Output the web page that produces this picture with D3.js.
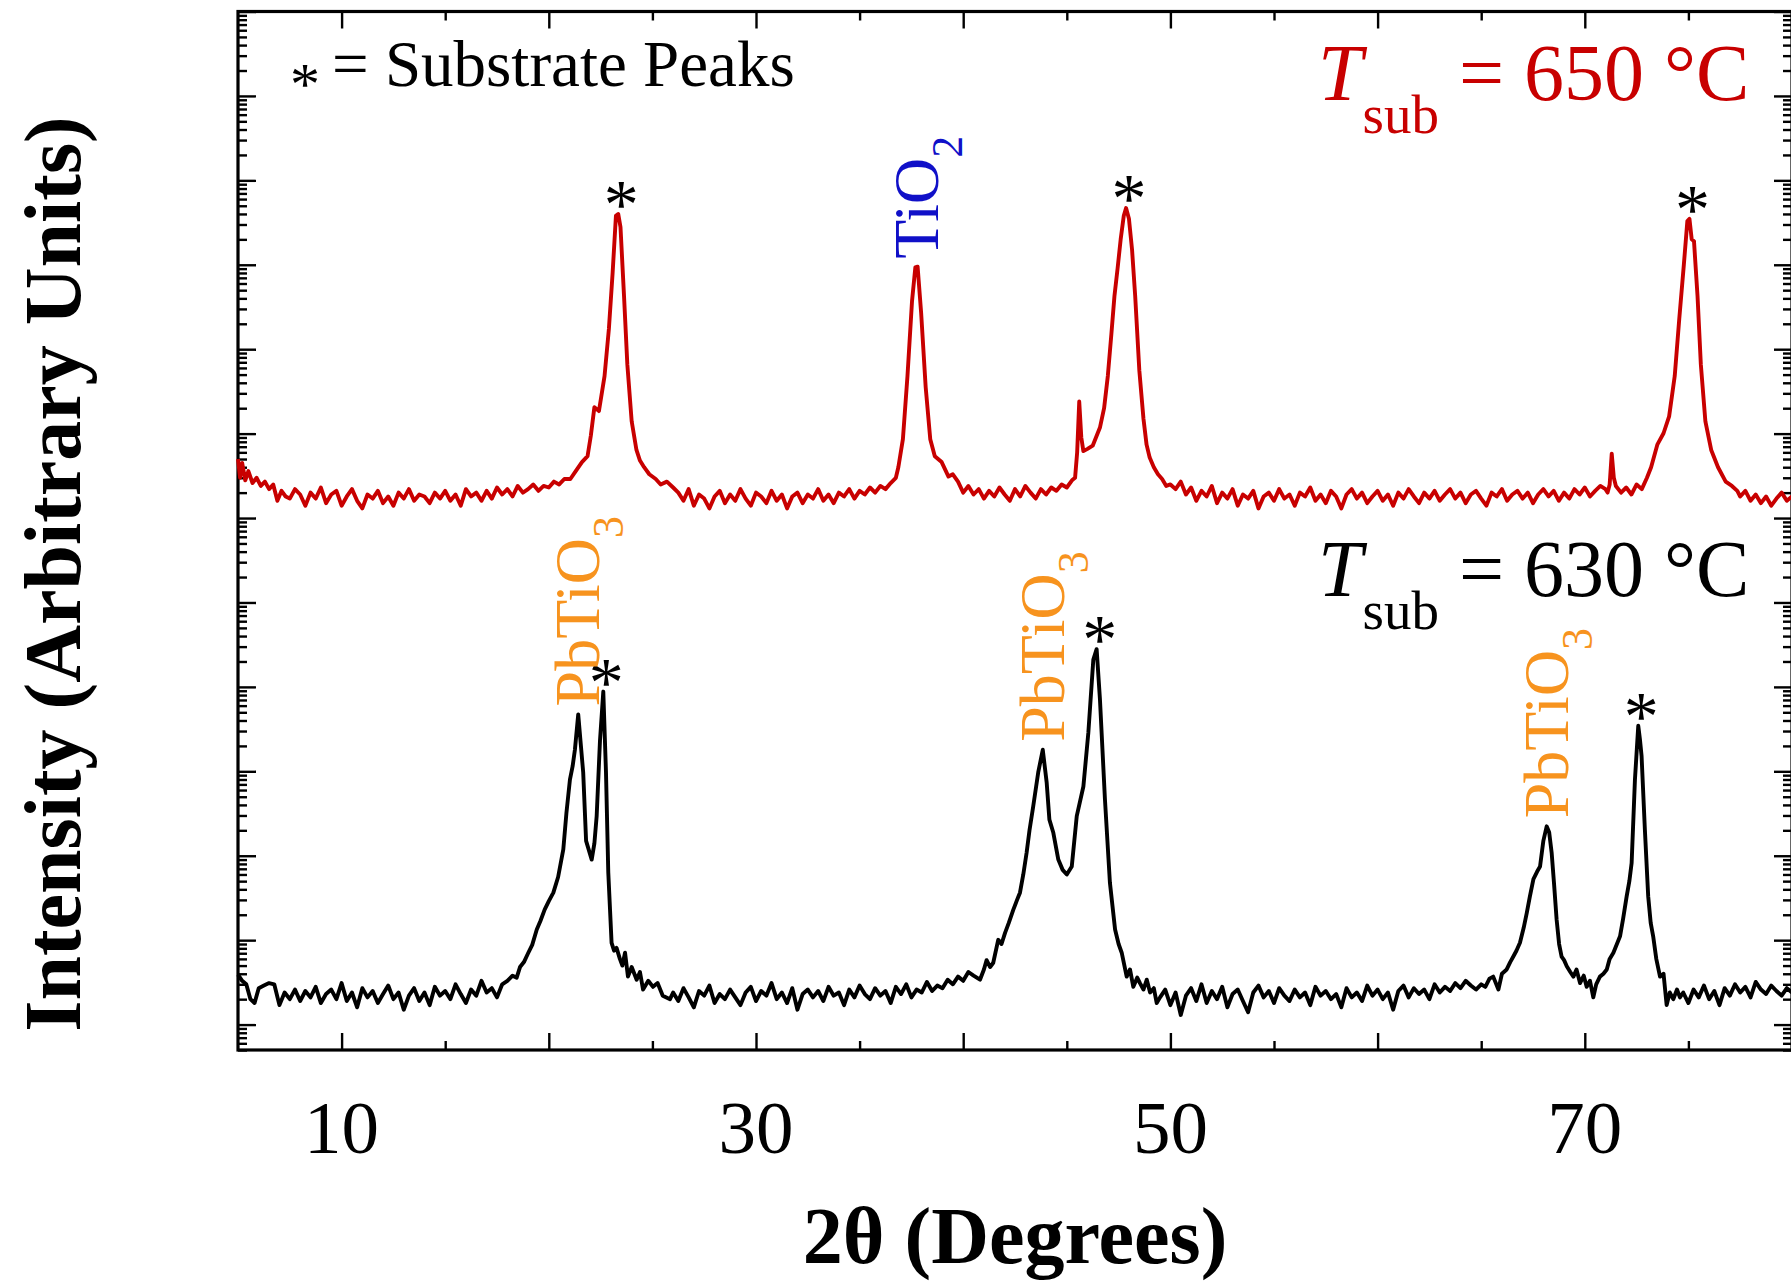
<!DOCTYPE html>
<html>
<head>
<meta charset="utf-8">
<script src="https://cdn.jsdelivr.net/npm/d3@7"></script>
<style>
  body { margin: 0; background: #fff; }
  svg text { font-family: "Liberation Serif", "Times New Roman", serif; }
</style>
</head>
<body>
<svg id="chart" width="1791" height="1281"></svg>
<script>
// XRD scans, [2theta (deg), counts]; the 650 C scan is shifted up on the log axis
const scan630 = [
  [5.0,39],[5.2,33],[5.4,30],[5.6,20],[5.8,18],[6.0,27],[6.25,29],[6.5,31],[6.75,30],[7.0,17],
  [7.25,24],[7.5,20],[7.75,26],[8.0,19],[8.25,25],[8.5,21],[8.75,28],[9.0,18],[9.25,23],[9.5,26],
  [9.75,20],[10.0,31],[10.25,19],[10.5,24],[10.75,16],[11.0,27],[11.25,21],[11.5,25],[11.75,18],[12.0,23],
  [12.25,29],[12.5,20],[12.75,24],[13.0,15],[13.25,22],[13.5,27],[13.75,19],[14.0,24],[14.25,17],[14.5,28],
  [14.75,22],[15.0,25],[15.25,20],[15.5,30],[15.75,23],[16.0,18],[16.25,26],[16.5,22],[16.75,33],[17.0,24],
  [17.25,27],[17.5,21],[17.75,30],[18.0,33],[18.25,38],[18.45,36],[18.61,48],[18.8,55],[19.0,70],[19.2,88],
  [19.42,134],[19.6,170],[19.8,230],[20.0,290],[20.22,365],[20.45,560],[20.7,1190],[20.85,3200],[21.02,7980],[21.15,11500],
  [21.26,18000],[21.42,47200],[21.55,20000],[21.66,9700],[21.8,1500],[22.07,900],[22.2,1400],[22.31,2950],[22.47,23000],[22.63,88000],
  [22.76,9700],[22.87,640],[23.03,93],[23.15,75],[23.27,81],[23.43,60],[23.55,50],[23.68,71],[23.82,37],[24.0,48],
  [24.24,34],[24.4,42],[24.55,26],[24.8,33],[25.03,28],[25.25,31],[25.5,22],[25.85,20],[26.0,24],[26.25,19],
  [26.5,27],[26.75,21],[27.0,16],[27.25,25],[27.5,22],[27.75,29],[28.0,18],[28.25,23],[28.5,20],[28.75,26],
  [29.0,21],[29.25,17],[29.5,24],[29.75,28],[30.0,19],[30.25,25],[30.5,22],[30.75,31],[31.0,20],[31.25,24],
  [31.5,18],[31.75,27],[32.0,15],[32.25,23],[32.5,26],[32.75,21],[33.0,25],[33.25,19],[33.5,28],[33.75,22],
  [34.0,24],[34.25,17],[34.5,26],[34.75,21],[35.0,29],[35.25,23],[35.5,20],[35.75,27],[36.0,22],[36.25,25],
  [36.5,18],[36.75,28],[37.0,23],[37.25,30],[37.5,21],[37.75,26],[38.0,24],[38.25,32],[38.5,25],[38.75,29],
  [39.0,27],[39.25,34],[39.5,30],[39.75,37],[40.0,33],[40.25,42],[40.5,38],[40.81,34],[41.0,45],[41.13,58],
  [41.3,48],[41.45,54],[41.69,101],[41.85,90],[42.02,122],[42.2,160],[42.42,230],[42.6,300],[42.74,365],[42.9,600],
  [43.06,1086],[43.2,2000],[43.38,3850],[43.62,9700],[43.84,18000],[44.03,7300],[44.16,2680],[44.35,1870],[44.59,900],[44.8,680],
  [45.0,600],[45.24,746],[45.48,2944],[45.8,6600],[46.04,28700],[46.28,210000],[46.44,280000],[46.6,71000],[46.84,4700],[47.08,482],
  [47.33,134],[47.5,90],[47.65,71],[47.89,37],[48.05,45],[48.21,28],[48.4,36],[48.53,31],[48.7,26],[48.86,34],
  [49.02,24],[49.2,27],[49.34,18],[49.5,21],[49.75,26],[50.0,17],[50.25,24],[50.5,13],[50.75,22],[51.0,27],
  [51.25,19],[51.5,30],[51.75,18],[52.0,25],[52.25,20],[52.5,28],[52.75,16],[53.0,23],[53.25,26],[53.5,19],
  [53.75,14],[54.0,24],[54.25,29],[54.5,21],[54.75,25],[55.0,18],[55.25,27],[55.5,22],[55.75,19],[56.0,26],
  [56.25,21],[56.5,24],[56.75,17],[57.0,28],[57.25,22],[57.5,25],[57.75,20],[58.0,23],[58.25,16],[58.5,27],
  [58.75,21],[59.0,24],[59.25,19],[59.5,29],[59.75,22],[60.0,26],[60.25,20],[60.5,24],[60.75,15],[61.0,25],
  [61.25,29],[61.5,21],[61.75,27],[62.0,23],[62.25,26],[62.5,20],[62.75,30],[63.0,24],[63.25,28],[63.5,25],
  [63.75,31],[64.0,27],[64.25,33],[64.5,29],[64.75,26],[65.0,30],[65.2,28],[65.4,35],[65.58,37],[65.83,26],
  [66.0,40],[66.23,45],[66.4,55],[66.55,64],[66.7,75],[66.87,93],[67.05,140],[67.2,210],[67.35,330],[67.52,530],
  [67.7,650],[67.84,746],[68.0,1500],[68.16,2230],[68.28,1900],[68.4,1086],[68.52,450],[68.64,175],[68.76,90],[68.88,64],
  [69.0,58],[69.13,49],[69.3,42],[69.45,37],[69.6,45],[69.77,31],[69.95,38],[70.09,28],[70.25,33],[70.41,21],
  [70.55,30],[70.73,37],[70.9,40],[71.06,45],[71.2,60],[71.38,71],[71.55,90],[71.7,111],[71.85,180],[72.02,330],
  [72.15,500],[72.26,820],[72.42,7980],[72.58,34600],[72.66,24000],[72.74,15200],[72.9,2023],[73.06,330],[73.18,160],[73.3,111],
  [73.45,60],[73.63,37],[73.8,40],[73.95,17],[74.1,24],[74.27,20],[74.45,26],[74.59,21],[74.75,24],[75.0,18],
  [75.25,26],[75.5,21],[75.75,29],[76.0,20],[76.25,25],[76.5,17],[76.75,27],[77.0,22],[77.25,30],[77.5,24],
  [77.75,28],[78.0,21],[78.25,32],[78.5,26],[78.75,23],[79.0,29],[79.25,25],[79.5,22],[79.75,27],[80.0,24]
];

const scan650 = [
  [5.0,50],[5.1,30],[5.2,45],[5.35,28],[5.5,36],[5.7,26],[5.9,30],[6.1,24],[6.3,27],[6.5,22],
  [6.7,25],[6.9,16],[7.1,21],[7.3,18],[7.5,17],[7.75,22],[8.0,19],[8.25,14],[8.5,20],[8.75,17],
  [9.0,23],[9.25,15],[9.5,19],[9.75,21],[10.0,14],[10.25,18],[10.5,22],[10.75,16],[11.0,13],[11.25,19],
  [11.5,17],[11.75,21],[12.0,15],[12.25,18],[12.5,14],[12.75,20],[13.0,17],[13.25,22],[13.5,16],[13.75,19],
  [14.0,18],[14.25,15],[14.5,20],[14.75,17],[15.0,21],[15.25,16],[15.5,19],[15.75,14],[16.0,22],[16.25,18],
  [16.5,20],[16.75,16],[17.0,21],[17.25,17],[17.5,23],[17.75,19],[18.0,22],[18.25,18],[18.5,24],[18.75,20],
  [19.0,22],[19.25,25],[19.5,21],[19.75,24],[20.0,23],[20.25,27],[20.5,25],[20.75,29],[21.04,29],[21.3,36],
  [21.6,46],[21.87,54],[22.03,95],[22.2,205],[22.42,185],[22.69,480],[22.9,1740],[23.08,8000],[23.24,38000],[23.35,40000],
  [23.46,28000],[23.63,4270],[23.79,660],[24.0,140],[24.23,64],[24.4,48],[24.6,40],[24.85,33],[25.16,29],[25.4,25],
  [25.7,27],[26.0,23],[26.25,20],[26.5,16],[26.75,22],[27.0,14],[27.25,19],[27.5,17],[27.75,13],[28.0,18],
  [28.25,21],[28.5,15],[28.75,19],[29.0,16],[29.25,22],[29.5,17],[29.75,14],[30.0,20],[30.25,18],[30.5,15],
  [30.75,21],[31.0,16],[31.25,19],[31.5,13],[31.75,18],[32.0,20],[32.25,15],[32.5,19],[32.75,17],[33.0,22],
  [33.25,16],[33.5,19],[33.75,15],[34.0,20],[34.25,18],[34.5,22],[34.75,17],[35.0,21],[35.25,19],[35.5,23],
  [35.75,20],[36.0,24],[36.25,22],[36.5,26],[36.75,30],[36.87,40],[37.09,86],[37.31,480],[37.53,3700],[37.69,9300],
  [37.8,9500],[37.97,2700],[38.19,353],[38.41,86],[38.63,54],[38.96,46],[39.29,31],[39.5,33],[39.75,27],[40.0,20],
  [40.25,24],[40.5,19],[40.75,22],[41.0,17],[41.25,21],[41.5,18],[41.75,23],[42.0,19],[42.25,16],[42.5,22],
  [42.75,18],[43.0,24],[43.25,20],[43.5,17],[43.75,22],[44.0,19],[44.25,23],[44.5,21],[44.75,25],[45.0,23],
  [45.25,28],[45.4,30],[45.5,60],[45.6,240],[45.7,90],[45.8,62],[46.0,66],[46.25,72],[46.6,118],[46.8,200],
  [46.98,482],[47.15,1500],[47.3,4270],[47.45,9000],[47.6,20000],[47.75,38000],[47.86,47000],[48.0,35000],[48.15,15000],[48.3,4270],
  [48.5,560],[48.7,150],[48.85,74],[49.0,52],[49.2,40],[49.4,33],[49.6,29],[49.8,24],[50.0,25],[50.25,22],
  [50.5,27],[50.75,19],[51.0,23],[51.25,16],[51.5,21],[51.75,18],[52.0,24],[52.25,15],[52.5,20],[52.75,17],
  [53.0,22],[53.25,14],[53.5,19],[53.75,17],[54.0,21],[54.25,13],[54.5,18],[54.75,20],[55.0,16],[55.25,22],
  [55.5,17],[55.75,19],[56.0,14],[56.25,20],[56.5,18],[56.75,23],[57.0,16],[57.25,19],[57.5,15],[57.75,21],
  [58.0,18],[58.25,13],[58.5,19],[58.75,22],[59.0,17],[59.25,20],[59.5,15],[59.75,18],[60.0,21],[60.25,16],
  [60.5,19],[60.75,14],[61.0,20],[61.25,17],[61.5,22],[61.75,18],[62.0,15],[62.25,20],[62.5,17],[62.75,21],
  [63.0,16],[63.25,19],[63.5,22],[63.75,17],[64.0,20],[64.25,15],[64.5,19],[64.75,21],[65.0,17],[65.25,14],
  [65.5,20],[65.75,18],[66.0,22],[66.25,16],[66.5,19],[66.75,21],[67.0,17],[67.25,20],[67.5,15],[67.75,19],
  [68.0,22],[68.25,18],[68.5,21],[68.75,16],[69.0,20],[69.25,17],[69.5,22],[69.75,19],[70.0,23],[70.25,18],
  [70.5,21],[70.75,24],[71.0,22],[71.1,20],[71.2,25],[71.3,58],[71.4,30],[71.5,24],[71.75,20],[72.0,23],
  [72.25,19],[72.5,25],[72.75,22],[73.0,30],[73.2,40],[73.5,74],[73.8,101],[74.07,160],[74.34,480],[74.56,2300],
  [74.78,10000],[74.95,33000],[75.05,35000],[75.16,20000],[75.27,19000],[75.44,4270],[75.6,660],[75.82,140],[76.1,64],[76.43,40],
  [76.8,27],[77.1,24],[77.36,21],[77.5,18],[77.75,21],[78.0,16],[78.25,19],[78.5,15],[78.75,18],[79.0,14],
  [79.25,17],[79.5,20],[79.75,16],[80.0,18]
];

const offset650 = 1e6; // vertical stacking factor for the upper scan

const xMajorTicks = [10, 20, 30, 40, 50, 60, 70];
const xMinorTicks = [15, 25, 35, 45, 55, 65, 75];
const xTickLabels = [10, 30, 50, 70];

// substrate (*) peaks and phase labels, by angle
const starAngles630 = [22.63, 46.44, 72.58];
const starAngles650 = [23.35, 47.86, 75.05];
const phases630 = [["PbTiO", "3", 21.42], ["PbTiO", "3", 43.84], ["PbTiO", "3", 68.16]];
const phases650 = [["TiO", "2", 37.75]];

const plotL = 238, plotR = 1792, plotT = 11.5, plotB = 1050;
const svg = d3.select("#chart");

let x = d3.scaleLinear().domain([5, 80]).range([plotL, plotR]);
let y = d3.scaleLog().domain([5, 1e13]).range([plotB, plotT]);

// log ticks: decades and 2..9 minors
let yMajor = [], yMinor = [];
for (let k = 0; k <= 13; k++) {
  for (let m = 1; m <= 9; m++) {
    let v = m * Math.pow(10, k);
    if (v < 5 || v > 1e13) continue;
    if (m === 1) yMajor.push(v); else yMinor.push(v);
  }
}

function tidy(g) {
  g.select(".domain").remove();
  g.selectAll(".tick line").attr("stroke", "#000").attr("stroke-width", 2.4);
}

svg.append("g").attr("transform", `translate(0,${plotB})`)
  .call(d3.axisBottom(x).tickValues(xMajorTicks).tickSize(-17).tickFormat("")).call(tidy);
svg.append("g").attr("transform", `translate(0,${plotB})`)
  .call(d3.axisBottom(x).tickValues(xMinorTicks).tickSize(-9).tickFormat("")).call(tidy);
svg.append("g").attr("transform", `translate(0,${plotT})`)
  .call(d3.axisTop(x).tickValues(xMajorTicks).tickSize(-17).tickFormat("")).call(tidy);
svg.append("g").attr("transform", `translate(0,${plotT})`)
  .call(d3.axisTop(x).tickValues(xMinorTicks).tickSize(-9).tickFormat("")).call(tidy);

svg.append("g").attr("transform", `translate(${plotL},0)`)
  .call(d3.axisLeft(y).tickValues(yMajor).tickSize(-18).tickFormat("")).call(tidy);
svg.append("g").attr("transform", `translate(${plotL},0)`)
  .call(d3.axisLeft(y).tickValues(yMinor).tickSize(-9).tickFormat("")).call(tidy);
svg.append("g").attr("transform", `translate(${plotR},0)`)
  .call(d3.axisRight(y).tickValues(yMajor).tickSize(-18).tickFormat("")).call(tidy);
svg.append("g").attr("transform", `translate(${plotR},0)`)
  .call(d3.axisRight(y).tickValues(yMinor).tickSize(-9).tickFormat("")).call(tidy);

svg.append("rect")
  .attr("x", plotL).attr("y", plotT)
  .attr("width", plotR - plotL).attr("height", plotB - plotT)
  .attr("fill", "none").attr("stroke", "#000").attr("stroke-width", 3.2);

svg.selectAll(".xlab").data(xTickLabels).enter()
  .append("text")
  .attr("x", d => x(d)).attr("y", 1153)
  .attr("text-anchor", "middle").attr("font-size", 75)
  .text(d => d);

// curves
function lineFor(scale) {
  return d3.line().x(d => x(d[0])).y(d => y(d[1] * scale));
}
svg.append("path").datum(scan650)
  .attr("d", lineFor(offset650))
  .attr("fill", "none").attr("stroke", "#c80000").attr("stroke-width", 3.9)
  .attr("stroke-linejoin", "round");
svg.append("path").datum(scan630)
  .attr("d", lineFor(1))
  .attr("fill", "none").attr("stroke", "#000").attr("stroke-width", 3.9)
  .attr("stroke-linejoin", "round");

function peakTop(data, angle) {
  let near = data.filter(d => Math.abs(d[0] - angle) < 0.3);
  return d3.max(near, d => d[1]);
}

// * markers above substrate peaks
function stars(data, angles, scale) {
  svg.selectAll(null).data(angles).enter()
    .append("text")
    .attr("x", d => x(d) + 3)
    .attr("y", d => y(peakTop(data, d) * scale) + 14)
    .attr("text-anchor", "middle").attr("font-size", 70)
    .text("*");
}
stars(scan630, starAngles630, 1);
stars(scan650, starAngles650, offset650);

// rotated phase labels
function phaseLabels(data, list, scale, color) {
  list.forEach(p => {
    let px = x(p[2]) + 21;
    let py = y(peakTop(data, p[2]) * scale) - 8;
    let t = svg.append("text")
      .attr("transform", `translate(${px},${py}) rotate(-90)`)
      .attr("fill", color).attr("font-size", 64);
    t.append("tspan").text(p[0]);
    t.append("tspan").attr("font-size", 44).attr("dy", 24).text(p[1]);
  });
}
phaseLabels(scan630, phases630, 1, "#f7931e");
phaseLabels(scan650, phases650, offset650, "#1010c8");

// legend text
svg.append("text").attr("x", 290).attr("y", 104).attr("font-size", 60).text("*");
svg.append("text").attr("x", 332).attr("y", 86).attr("font-size", 65).text("= Substrate Peaks");

function tempLabel(value, baseY, color) {
  let t = svg.append("text").attr("x", 1318).attr("y", baseY)
    .attr("fill", color).attr("font-size", 80);
  t.append("tspan").attr("font-style", "italic").text("T");
  t.append("tspan").attr("font-size", 55).attr("dy", 33).text("sub");
  t.append("tspan").attr("dy", -33).text(" = " + value + " °C");
}
tempLabel(650, 100, "#c80000");
tempLabel(630, 596, "#000");

// axis titles
svg.append("text")
  .attr("x", (plotL + plotR) / 2).attr("y", 1263)
  .attr("text-anchor", "middle").attr("font-size", 80).attr("font-weight", "bold")
  .text("2θ (Degrees)");
svg.append("text")
  .attr("transform", "translate(80,574) rotate(-90)")
  .attr("text-anchor", "middle").attr("font-size", 80).attr("font-weight", "bold")
  .text("Intensity (Arbitrary Units)");
</script>
</body>
</html>
